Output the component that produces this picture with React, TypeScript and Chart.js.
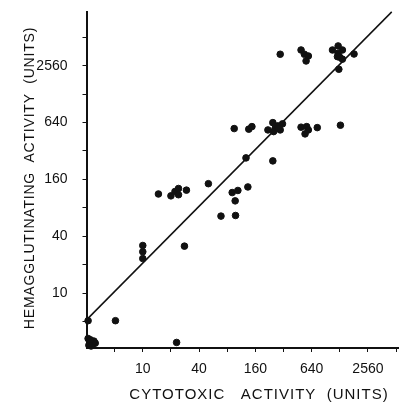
import React, { useEffect, useRef } from "react";
import { Chart, registerables } from "chart.js";

Chart.register(...registerables);

// Cytotoxic activity (units) — x values
const cytotoxic = [
  295, 493, 535, 590, 558, 1069, 1229, 1365, 1229, 1280, 1365, 1250, 1817, 1208,
  95, 136, 147, 218, 246, 261, 278, 295, 312, 251, 283, 493, 566, 590, 544, 735, 1300,
  127, 246,
  14.7, 20, 22.1, 24.1, 24.1, 29.3, 50.3, 90.4, 104, 133, 97.3, 68.6, 98.2,
  10, 10, 10, 27.9, 5.1, 23, 2.6,
  2.6, 2.7, 2.9, 3.1, 2.65, 2.8, 3.0, 2.75,
];
// Hemagglutinating activity (units) — y values
const hemagglutinating = [
  3380, 3750, 3380, 3240, 2870, 3750, 4140, 3750, 3460, 3140, 3000, 2345, 3400, 3190,
  552, 544, 579, 534, 638, 557, 589, 534, 619, 513, 557, 571, 579, 534, 485, 565, 599,
  270, 251,
  112, 107, 119, 128, 110, 123, 144, 116, 122, 133, 94.7, 65.3, 66.3,
  31.9, 27.4, 23.2, 31.4, 5.1, 3.0, 5.1,
  3.3, 3.05, 2.85, 2.95, 2.8, 2.75, 3.1, 3.2,
];
// Regression line end points
const fitX = [2.5, 4600];
const fitY = [5.2, 9500];

// Axis ticks (doublings) and labelled ticks
const tickValues = [5, 10, 20, 40, 80, 160, 320, 640, 1280, 2560, 5120];
const tickLabels = [10, 40, 160, 640, 2560];

const xTitle = "CYTOTOXIC   ACTIVITY  (UNITS)";
const yTitle = "HEMAGGLUTINATING  ACTIVITY  (UNITS)";

const FONT = '"Liberation Sans", Arial, Helvetica, sans-serif';

export default function App() {
  const ref = useRef<HTMLCanvasElement>(null);

  useEffect(() => {
    if (!ref.current) return;
    const points = cytotoxic.map((x, i) => ({ x, y: hemagglutinating[i] }));
    const line = fitX.map((x, i) => ({ x, y: fitY[i] }));

    const titlePlugin = {
      id: "axisTitles",
      afterDraw(chart: any) {
        const { ctx } = chart;
        ctx.save();
        ctx.fillStyle = "#111";
        ctx.textAlign = "center";
        ctx.textBaseline = "middle";
        ctx.font = `15px ${FONT}`;
        (ctx as any).letterSpacing = "1px";
        ctx.fillText(xTitle, 259, 395);
        ctx.font = `14px ${FONT}`;
        (ctx as any).letterSpacing = "0.8px";
        ctx.translate(30, 178);
        ctx.rotate(-Math.PI / 2);
        ctx.fillText(yTitle, 0, 0);
        ctx.restore();
      },
    };

    const axisCommon = (isX: boolean) => ({
      type: "logarithmic" as const,
      afterBuildTicks: (scale: any) => {
        scale.ticks = tickValues
          .filter((v) => v >= scale.min && v <= scale.max)
          .map((v) => ({ value: v }));
      },
      afterFit: (scale: any) => {
        if (isX) {
          scale.height = 56;
          scale.paddingRight = 0;
          scale.paddingLeft = 0;
        } else {
          scale.width = 86.5;
          scale.paddingTop = 0;
          scale.paddingBottom = 0;
        }
      },
      grid: {
        display: true,
        drawOnChartArea: false,
        drawTicks: true,
        tickLength: 4,
        color: "#111",
        lineWidth: 1,
      },
      border: { display: true, color: "#111", width: 2 },
      ticks: {
        autoSkip: false,
        maxRotation: 0,
        minRotation: 0,
        padding: isX ? 9 : 15,
        color: "#111",
        font: { family: FONT, size: 14 },
        callback: (v: any) => (tickLabels.includes(Number(v)) ? String(v) : ""),
      },
    });

    const chart = new Chart(ref.current, {
      type: "scatter",
      data: {
        datasets: [
          {
            type: "line",
            data: line,
            borderColor: "#111",
            borderWidth: 1.5,
            pointRadius: 0,
            fill: false,
            clip: false as any,
          } as any,
          {
            type: "scatter",
            data: points,
            backgroundColor: "#111",
            borderColor: "#111",
            pointRadius: 3.3,
            pointHoverRadius: 3.3,
            clip: false as any,
          } as any,
        ],
      },
      options: {
        animation: false,
        responsive: true,
        maintainAspectRatio: false,
        layout: { padding: { top: 11.7, right: 0, left: 0, bottom: 0 } },
        plugins: {
          legend: { display: false },
          tooltip: { enabled: false },
        },
        scales: {
          x: { ...axisCommon(true), min: 2.5, max: 5460 } as any,
          y: { ...axisCommon(false), min: 2.62, max: 9540 } as any,
        },
      },
      plugins: [titlePlugin],
    });
    return () => chart.destroy();
  }, []);

  return (
    <div
      style={{
        position: "fixed",
        left: 0,
        top: 0,
        width: 403,
        height: 404,
        background: "#fff",
      }}
    >
      <canvas ref={ref} />
    </div>
  );
}
